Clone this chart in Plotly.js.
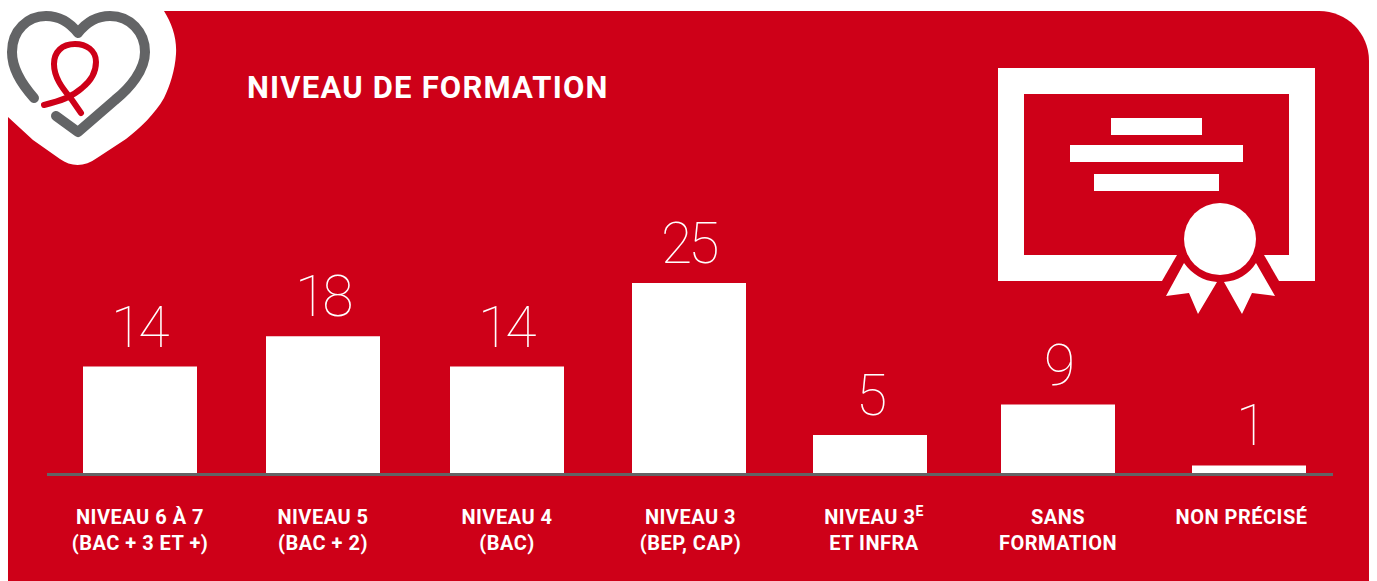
<!DOCTYPE html>
<html><head><meta charset="utf-8">
<script src="https://cdn.plot.ly/plotly-3.0.1.min.js"></script>
<style>html,body{margin:0;padding:0;background:#fff;overflow:hidden}#c{width:1377px;height:581px}
.shapelayer path{stroke-linecap:round;stroke-linejoin:round}
.gtitle{letter-spacing:1.2px}
.xtick text{letter-spacing:.5px}
.annotation-text{letter-spacing:-4px}
</style>
</head><body><div id="c"></div>
<script>
const categories = ['Niveau 6 à 7','Niveau 5','Niveau 4','Niveau 3','Niveau 3e et infra','Sans formation','Non précisé'];
const values = [14,18,14,25,5,9,1];
const tickLabels = ['NIVEAU 6 À 7<br>(BAC + 3 ET +)','NIVEAU 5<br>(BAC + 2)','NIVEAU 4<br>(BAC)','NIVEAU 3<br>(BEP, CAP)','NIVEAU 3<sup>E</sup><br>ET INFRA','SANS<br>FORMATION','NON PRÉCISÉ'];

const barCentres = [140,323,507,689,870,1058,1249];
const labelCentres = [140,323,507,690.5,874,1058,1241.5];
const RED = '#CE0018', GREY = '#636466', W = 1377, H = 581;
const L = 47, R = 1333, B = 473, T = 11;
const pxPerUnit = 7.6;

const fx = x => ((x - L) / (R - L)).toFixed(5);
const fy = y => ((B - y) / (B - T)).toFixed(5);
const P = (x, y) => fx(x) + ',' + fy(y);
const pathShape = (d, o) => Object.assign({type:'path', xref:'paper', yref:'paper', path:d, layer:'below'}, o);
const fill = (d, c) => pathShape(d, {fillcolor:c, line:{width:0}});
const stroke = (d, c, w) => ({type:'path', xref:'paper', yref:'paper', layer:'below', path:d, line:{color:c, width:w}});
const rect = (x0,y0,x1,y1) => `M${P(x0,y0)} L${P(x1,y0)} L${P(x1,y1)} L${P(x0,y1)} Z`;

const shapes = [
  fill(`M${P(8,11)} L${P(1319,11)} C${P(1347,11)} ${P(1369,33)} ${P(1369,61)} L${P(1369,581)} L${P(8,581)} Z`, RED),
  // logo backing
  fill(`M${P(0,11)} L${P(164,11)} C${P(172,24)} ${P(177,38)} ${P(176,54)} C${P(175,70)} ${P(170,86)} ${P(164,98)} C${P(155,114)} ${P(140,128)} ${P(126,139)} L${P(97,158)} C${P(85,167)} ${P(71,167)} ${P(60,159)} L${P(33,140)} L${P(8,117)} L${P(0,117)} Z`, '#ffffff'),
  stroke(`M${P(34,98)} C${P(20,82)} ${P(12,68)} ${P(12,52)} C${P(12,30)} ${P(28,16)} ${P(46,16)} C${P(60,16)} ${P(71,24)} ${P(78,33)} C${P(85,24)} ${P(96,16)} ${P(110,16)} C${P(130,16)} ${P(145,32)} ${P(145,52)} C${P(145,70)} ${P(130,88)} ${P(115,100)} L${P(78,132)} L${P(56,116)}`, GREY, 10),
  stroke(`M${P(44,105)} C${P(60,101)} ${P(72,97)} ${P(82,88)} C${P(92,80)} ${P(96,72)} ${P(96,62)} C${P(96,50)} ${P(86,44)} ${P(75,44)} C${P(62,44)} ${P(54,52)} ${P(54,64)} C${P(54,80)} ${P(66,92)} ${P(72,100)} L${P(81,113)}`, RED, 6),
  // diploma
  fill(rect(998,68,1315,281), '#ffffff'),
  fill(rect(1024,94,1289,255), RED),
  fill(rect(1111,118,1202,135), '#ffffff'),
  fill(rect(1070,145,1243,162), '#ffffff'),
  fill(rect(1094,174,1219,191), '#ffffff'),
  fill(`M${P(1177,255)} L${P(1162,281)} L${P(1279,281)} L${P(1264,255)} Z`, RED),
  fill(`M${P(1184,263)} L${P(1166,296)} L${P(1189,293)} L${P(1198,314)} L${P(1217,282)} C${P(1203,281)} ${P(1192,274)} ${P(1184,263)} Z`, '#ffffff'),
  fill(`M${P(1256,263)} L${P(1275,296)} L${P(1252,293)} L${P(1242,314)} L${P(1224,282)} C${P(1238,281)} ${P(1249,274)} ${P(1256,263)} Z`, '#ffffff'),
  {type:'circle', xref:'paper', yref:'paper', layer:'below', x0:fx(1184), x1:fx(1256), y0:fy(275), y1:fy(203), fillcolor:'#ffffff', line:{width:0}}
];

const trace = {
  type:'bar', x:barCentres, y:values, width:114, customdata:categories,
  marker:{color:'#ffffff', line:{width:0}},
  hoverinfo:'skip'
};

const annotations = values.map((v,i) => ({
  x:barCentres[i], y:v, xref:'x', yref:'y', text:String(v), showarrow:false,
  xanchor:'center', yanchor:'bottom', yshift:4,
  font:{family:'Roboto', size:57, color:'#ffffff', weight:100}
}));

const layout = {
  width:W, height:H, autosize:false, showlegend:false,
  paper_bgcolor:'#ffffff', plot_bgcolor:'rgba(0,0,0,0)',
  margin:{l:L, r:W-R, t:T, b:H-B, pad:0},
  title:{text:'NIVEAU DE FORMATION', x:247/W, xanchor:'left', xref:'container', y:1-87/H, yanchor:'middle',
    font:{family:'Roboto', size:31, weight:700, color:'#ffffff'}},
  xaxis:{type:'linear', range:[L,R], tickmode:'array', tickvals:labelCentres, ticktext:tickLabels, ticks:'', showgrid:false, zeroline:false,
    showline:true, linecolor:GREY, linewidth:3, tickangle:0, ticklabelstandoff:24,
    tickfont:{family:'Roboto', size:20, weight:700, color:'#ffffff'}, fixedrange:true},
  yaxis:{range:[0,(B-T)/pxPerUnit], visible:false, fixedrange:true},
  shapes, annotations
};
Plotly.newPlot('c',[trace],layout,{displayModeBar:false,staticPlot:true});
</script></body></html>
